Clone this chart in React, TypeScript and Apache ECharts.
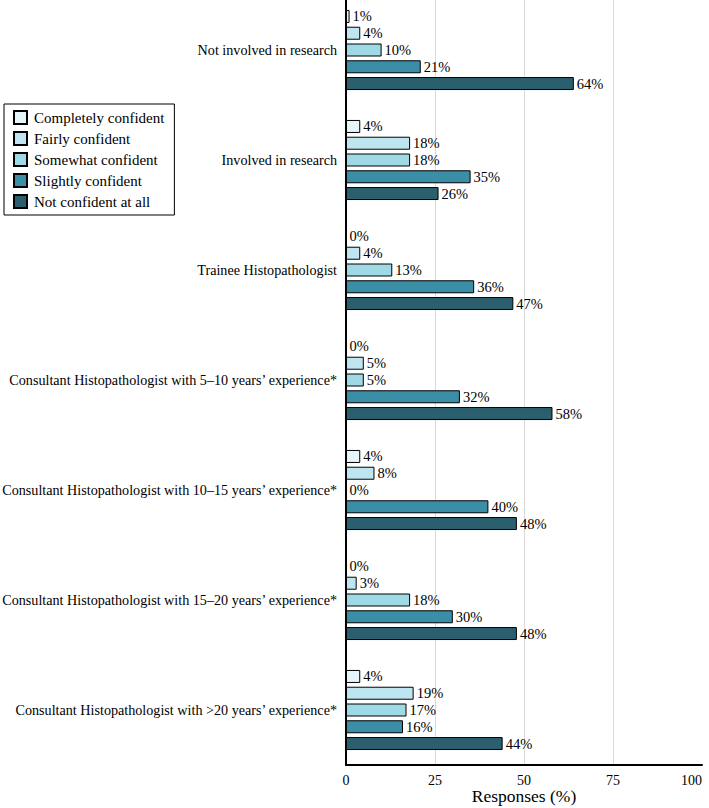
import React, { useEffect, useRef } from "react";
import * as echarts from "echarts";

const categories = [
  "Not involved in research",
  "Involved in research",
  "Trainee Histopathologist",
  "Consultant Histopathologist with 5–10 years’ experience*",
  "Consultant Histopathologist with 10–15 years’ experience*",
  "Consultant Histopathologist with 15–20 years’ experience*",
  "Consultant Histopathologist with >20 years’ experience*",
];

const seriesNames = [
  "Completely confident",
  "Fairly confident",
  "Somewhat confident",
  "Slightly confident",
  "Not confident at all",
];

const completelyConfident = [1, 4, 0, 0, 4, 0, 4];
const fairlyConfident = [4, 18, 4, 5, 8, 3, 19];
const somewhatConfident = [10, 18, 13, 5, 0, 18, 17];
const slightlyConfident = [21, 35, 36, 32, 40, 30, 16];
const notConfident = [64, 26, 47, 58, 48, 48, 44];

const xTicks = [0, 25, 50, 75, 100];

const colors = ["#e6f5fa", "#bfe6f0", "#a0d9e6", "#3a8ea6", "#2b5f6e"];

const FONT = "Liberation Serif";

export default function App() {
  const ref = useRef<HTMLDivElement>(null);
  useEffect(() => {
    if (!ref.current) return;
    const chart = echarts.init(ref.current, undefined, { renderer: "svg" });
    const values = [
      completelyConfident,
      fairlyConfident,
      somewhatConfident,
      slightlyConfident,
      notConfident,
    ];
    chart.setOption({
      animation: false,
      backgroundColor: "#ffffff",
      textStyle: { fontFamily: FONT, color: "#000" },
      grid: {
        left: 346,
        right: 7,
        top: -5,
        bottom: 43,
        containLabel: false,
        outerBoundsMode: "none",
      },
      legend: {
        orient: "vertical",
        left: 4,
        top: 104,
        padding: [6, 10, 6, 9],
        itemWidth: 13,
        itemHeight: 13,
        itemGap: 6,
        borderColor: "#000",
        borderWidth: 1,
        backgroundColor: "#fff",
        icon: "rect",
        textStyle: { fontFamily: FONT, fontSize: 15, color: "#000", padding: [0, 0, 0, 2] },
        data: seriesNames,
      },
      xAxis: {
        type: "value",
        min: xTicks[0],
        max: xTicks[xTicks.length - 1],
        interval: 25,
        name: "Responses (%)",
        nameLocation: "middle",
        nameGap: 22,
        nameMoveOverlap: false,
        nameTextStyle: { fontFamily: FONT, fontSize: 17.5, color: "#000" },
        axisLine: { show: true, lineStyle: { color: "#000", width: 2 } },
        axisTick: { show: false },
        axisLabel: {
          fontFamily: FONT,
          fontSize: 14,
          color: "#000",
          margin: 8,
          alignMaxLabel: "right",
        },
        splitLine: {
          show: true,
          lineStyle: {
            color: ["#d9d9d9", "#d9d9d9", "#d9d9d9", "#d9d9d9", "rgba(0,0,0,0)"],
            width: 1,
          },
        },
      },
      yAxis: {
        type: "category",
        data: categories,
        inverse: true,
        axisLine: { show: true, lineStyle: { color: "#000", width: 2 } },
        axisTick: { show: false },
        axisLabel: { fontFamily: FONT, fontSize: 14.15, color: "#000", margin: 9 },
        splitLine: { show: false },
      },
      series: seriesNames.map((name, i) => ({
        name,
        type: "bar",
        data: values[i],
        barWidth: 13,
        barGap: "29%",
        itemStyle: { color: colors[i], borderColor: "#000", borderWidth: 1 },
        label: {
          show: true,
          position: "right",
          distance: 3,
          formatter: "{c}%",
          fontFamily: FONT,
          fontSize: 14.5,
          color: "#000",
        },
      })),
    });
    return () => chart.dispose();
  }, []);
  return (
    <div
      ref={ref}
      style={{ position: "fixed", left: 0, top: 0, width: 709, height: 808 }}
    />
  );
}
